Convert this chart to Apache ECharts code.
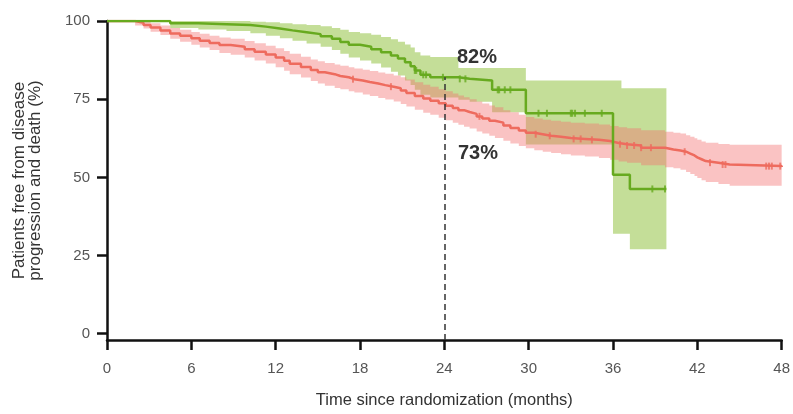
<!DOCTYPE html>
<html><head><meta charset="utf-8">
<script src="https://cdn.jsdelivr.net/npm/echarts@6/dist/echarts.min.js"></script>
<style>html,body{margin:0;padding:0;background:#fff}#c{width:793px;height:414px}</style>
</head><body><div id="c"></div>
<script>
// ---- data ----
const xTicks = [0, 6, 12, 18, 24, 30, 36, 42, 48];
const yTicks = [0, 25, 50, 75, 100];

const greenTime  = [0, 4.5, 6.5, 8.5, 10.2, 11.3, 12.3, 13.2, 14.2, 15.2, 16.0, 16.6, 17.2, 18.0, 18.8, 19.5, 20.2, 20.7, 21.2, 21.6, 21.9, 22.3, 23.0, 25.0, 25.8, 27.4, 29.8, 36.0, 36.6, 37.2, 39.8];
const greenSurv  = [100, 99.3, 99, 98.7, 98.2, 97.6, 97, 96.4, 95.8, 95.1, 94.3, 93.3, 92.4, 91.8, 91, 90, 89, 88, 86.8, 85.5, 84.2, 82.8, 82, 81.5, 81, 78, 70.5, 50.8, 50.8, 46.3, 46.3];
const greenLower = [100, 97.8, 97.3, 96.8, 96.1, 95.3, 94.5, 93.7, 92.8, 91.8, 90.7, 89.5, 88.3, 87.4, 86.4, 85.1, 83.8, 82.6, 81, 79.5, 78, 76.4, 75.5, 74.8, 74.2, 70.8, 60.5, 32, 32, 27, 27];
const greenUpper = [100, 100, 100, 100, 99.8, 99.6, 99.3, 99, 98.7, 98.3, 97.8, 97.2, 96.5, 96.1, 95.6, 94.9, 94.2, 93.4, 92.5, 91.5, 90, 89, 88.5, 85, 85, 85, 81, 81, 78.5, 78.5, 78.5];

const redTime  = [0, 2.0, 2.6, 3.1, 3.8, 4.5, 5.2, 6.0, 6.6, 7.3, 8.0, 8.8, 9.8, 10.5, 11.3, 12.0, 12.6, 13.0, 13.8, 14.5, 15.0, 15.5, 16.2, 16.6, 17.2, 17.6, 18.2, 18.7, 19.3, 19.8, 20.4, 20.9, 21.3, 21.9, 22.5, 23, 23.6, 24.1, 24.6, 25, 25.4, 25.8, 26.3, 26.7, 27.2, 27.6, 28.2, 28.7, 29.3, 29.8, 30.4, 31, 31.6, 32.3, 33, 34, 35, 35.8, 36.4, 37, 38, 39.7, 40.3, 40.8, 41.2, 41.5, 41.8, 42, 42.3, 42.6, 43.5, 44.3, 48];
const redSurv  = [100, 99.4, 98.7, 97.9, 97, 96, 95.3, 94.5, 93.7, 93, 92.3, 91.8, 91, 90.2, 89.3, 88.3, 87.3, 86.3, 85.3, 84.3, 83.6, 83, 82.4, 82, 81.4, 81, 80.5, 80, 79.5, 79, 78.5, 77.8, 77, 76, 75.2, 74.5, 73.7, 72.9, 72.2, 71.5, 70.9, 70.3, 69.5, 68.8, 68.1, 67.5, 66.6, 65.8, 65, 64.3, 63.8, 63.3, 63, 62.6, 62.3, 62, 61.6, 61, 60.6, 60.2, 59.5, 58.9, 58.6, 58.2, 57.6, 57, 56.4, 55.8, 55.2, 54.7, 54.1, 53.6, 53.3];
const redLower = [100, 98.6, 97.6, 96.6, 95.5, 94.3, 93.4, 92.4, 91.5, 90.7, 89.8, 89.2, 88.3, 87.4, 86.4, 85.2, 84.1, 83, 81.9, 80.8, 80, 79.3, 78.6, 78.2, 77.5, 77.1, 76.5, 76, 75.4, 74.9, 74.3, 73.5, 72.7, 71.6, 70.7, 70, 69.1, 68.3, 67.5, 66.8, 66.2, 65.6, 64.7, 64, 63.3, 62.6, 61.7, 60.8, 60, 59.3, 58.7, 58.2, 57.8, 57.4, 57, 56.7, 56.2, 55.6, 55.1, 54.7, 53.9, 53.2, 52.9, 52.4, 51.7, 51.1, 50.4, 49.8, 49.1, 48.5, 47.9, 47.3, 47];
const redUpper = [100, 100, 99.8, 99.3, 98.6, 97.8, 97.2, 96.5, 95.9, 95.3, 94.7, 94.3, 93.6, 92.9, 92.1, 91.3, 90.4, 89.5, 88.6, 87.7, 87.1, 86.6, 86.1, 85.7, 85.2, 84.8, 84.4, 84, 83.5, 83.1, 82.6, 82, 81.3, 80.4, 79.6, 79, 78.2, 77.5, 76.8, 76.2, 75.6, 75, 74.3, 73.6, 73, 72.4, 71.5, 70.8, 70, 69.3, 68.8, 68.4, 68.1, 67.8, 67.5, 67.2, 66.9, 66.4, 66, 65.7, 65.1, 64.6, 64.3, 64, 63.5, 63, 62.5, 62, 61.5, 61.1, 60.7, 60.4, 60.2];

const greenCensor = [21.9, 22.0, 22.5, 22.7, 23.9, 25.1, 25.5, 27.8, 27.9, 28.3, 28.7, 30.7, 31.3, 33.0, 33.1, 33.3, 34.0, 35.2, 38.8, 39.7];
const redCensor   = [17.5, 20.2, 26.5, 30.5, 31.5, 33.2, 33.7, 34.5, 36.5, 37.0, 37.5, 38.0, 38.7, 41.1, 42.9, 43.8, 44.0, 46.9, 47.1, 47.3, 47.9];

const landmarkMonth = 24;
const landmarkGreen = 82;
const landmarkRed = 73;
const landmarkLabels = ['82%', '73%'];

const xTitle = 'Time since randomization (months)';
const yTitle = 'Patients free from disease\nprogression and death (%)';

// ---- helpers ----
const pairs = (t, v) => t.map((x, i) => [x, v[i]]);
function stepAt(times, vals, t) {
  let v = vals[0];
  for (let i = 0; i < times.length; i++) { if (times[i] <= t) v = vals[i]; }
  return v;
}
const censorPts = (c, t, v) => c.map(x => [x, stepAt(t, v, x)]);

const GREEN = '#67aa1f', RED = '#ee6b5e';
const GREEN_BAND = '#c4de98', RED_BAND = 'rgba(242,112,112,0.42)';
const FONT = "'Liberation Sans', Arial, sans-serif";
const Y_MIN = -2;

// confidence band drawn as a step polygon through the chart's own coordinate system
function bandSeries(name, t, lo, hi, color, z) {
  return {
    name: name, type: 'custom', silent: true, z: z,
    data: t.map((x, i) => [x, lo[i], hi[i]]),
    encode: { x: 0, y: [1, 2] },
    renderItem: function (params, api) {
      if (params.dataIndex !== 0) return null;
      const n = t.length, pts = [];
      for (let i = 0; i < n; i++) {
        pts.push(api.coord([t[i], hi[i]]));
        if (i + 1 < n) pts.push(api.coord([t[i + 1], hi[i]]));
      }
      for (let i = n - 1; i >= 0; i--) {
        if (i + 1 < n) pts.push(api.coord([t[i + 1], lo[i]]));
        pts.push(api.coord([t[i], lo[i]]));
      }
      return { type: 'polygon', shape: { points: pts }, style: { fill: color } };
    }
  };
}

const chart = echarts.init(document.getElementById('c'), null, { renderer: 'canvas' });

chart.setOption({
  animation: false,
  grid: { left: 107, right: 11, top: 21, bottom: 70 },
  xAxis: {
    type: 'value', min: 0, max: 48, interval: 6,
    axisLine: { onZero: false, lineStyle: { color: '#111', width: 2.5 } },
    axisTick: { show: true, length: 10, lineStyle: { color: '#111', width: 2.5 } },
    axisLabel: { color: '#555', fontSize: 15, fontFamily: FONT, margin: 21, customValues: xTicks },
    splitLine: { show: false },
    name: xTitle, nameLocation: 'middle', nameGap: 52,
    nameTextStyle: { color: '#333', fontSize: 16.5, fontFamily: FONT }
  },
  yAxis: {
    type: 'value', min: Y_MIN, max: 100,
    axisLine: { show: true, lineStyle: { color: '#111', width: 2.5 } },
    axisTick: { show: true, length: 10, lineStyle: { color: '#111', width: 2.5 }, customValues: yTicks },
    axisLabel: { color: '#555', fontSize: 15, fontFamily: FONT, margin: 17, customValues: yTicks },
    splitLine: { show: false },
    name: yTitle, nameLocation: 'middle', nameGap: 64, nameRotate: 90,
    nameTextStyle: { color: '#333', fontSize: 17, lineHeight: 16, fontFamily: FONT }
  },
  series: [
    bandSeries('greenBand', greenTime, greenLower, greenUpper, GREEN_BAND, 1),
    bandSeries('redBand', redTime, redLower, redUpper, RED_BAND, 2),
    { name: 'red', type: 'line', step: 'end', data: pairs(redTime, redSurv), symbol: 'none',
      lineStyle: { color: RED, width: 2.5 }, z: 3 },
    { name: 'green', type: 'line', step: 'end', data: pairs(greenTime, greenSurv), symbol: 'none',
      lineStyle: { color: GREEN, width: 2.5 }, z: 4,
      markLine: { silent: true, symbol: 'none', label: { show: false },
        lineStyle: { color: '#333', type: [6, 4], width: 1.5 },
        data: [[{ coord: [landmarkMonth, Y_MIN] }, { coord: [landmarkMonth, landmarkGreen] }]] } },
    { name: 'redCensor', type: 'scatter', data: censorPts(redCensor, redTime, redSurv),
      symbol: 'rect', symbolSize: [2, 7], itemStyle: { color: RED }, z: 5 },
    { name: 'greenCensor', type: 'scatter', data: censorPts(greenCensor, greenTime, greenSurv),
      symbol: 'rect', symbolSize: [2, 7], itemStyle: { color: GREEN }, z: 6 }
  ],
  graphic: [
    { type: 'text', left: 457, top: 47, z: 100,
      style: { text: landmarkLabels[0], fill: '#333', fontSize: 20, fontWeight: 'bold', fontFamily: FONT } },
    { type: 'text', left: 458, top: 143, z: 100,
      style: { text: landmarkLabels[1], fill: '#333', fontSize: 20, fontWeight: 'bold', fontFamily: FONT } }
  ]
});
</script>
</body></html>
